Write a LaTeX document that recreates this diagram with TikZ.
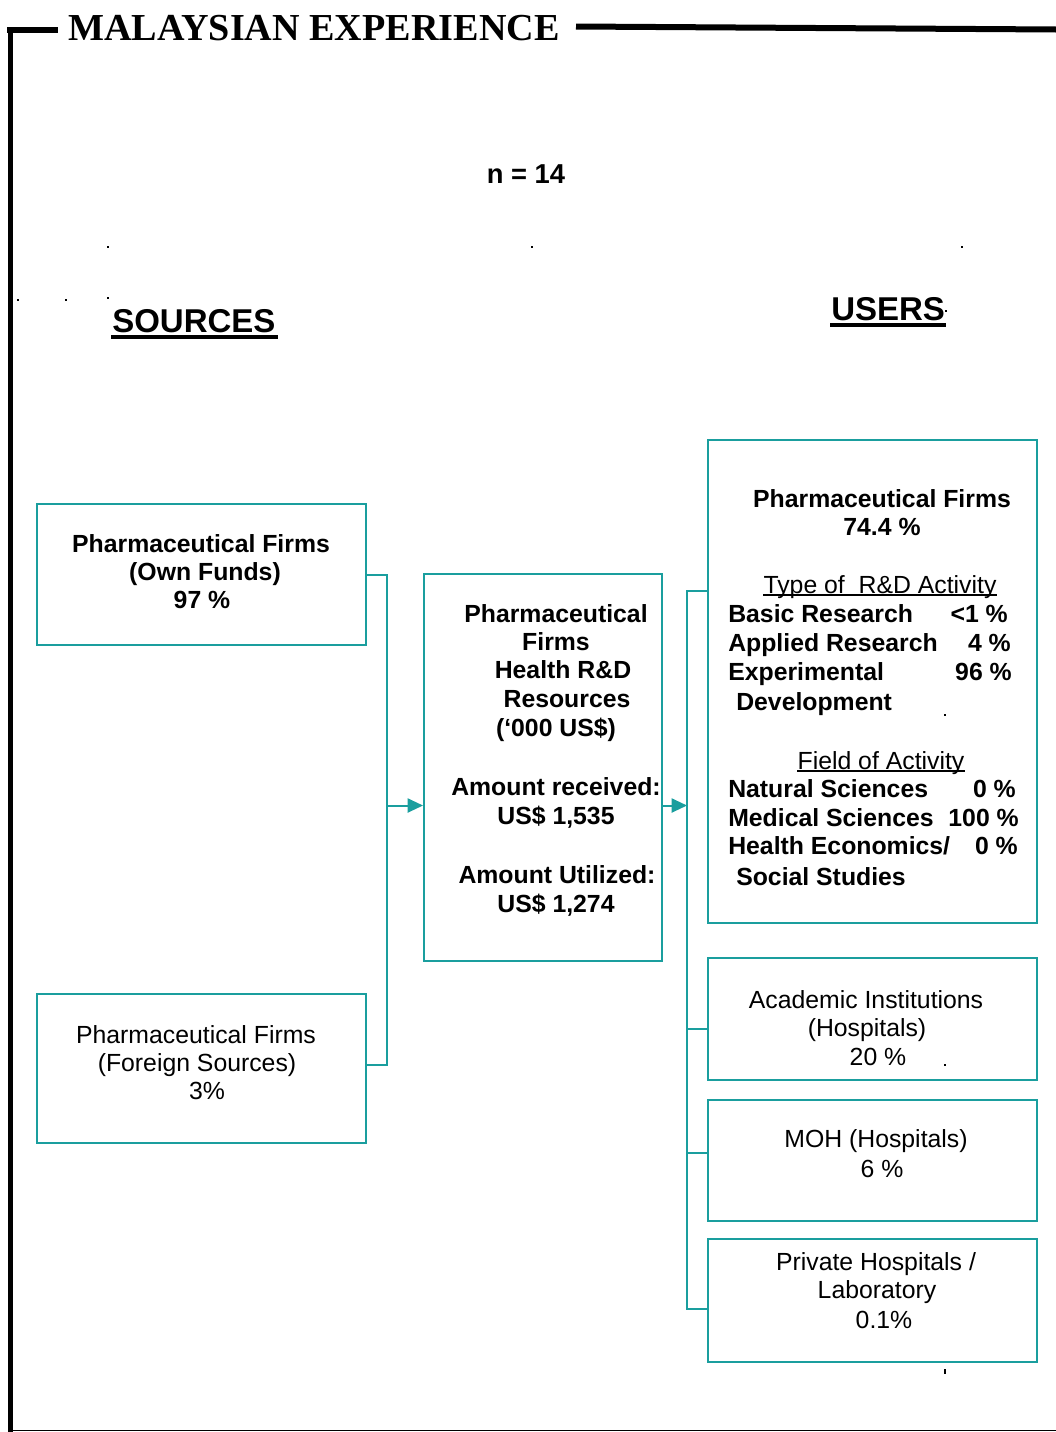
\documentclass[tikz,border=0pt]{standalone}
\usepackage{fontspec}
\setmainfont{Liberation Sans}
\newfontfamily\titlefont{Liberation Serif}
\usetikzlibrary{arrows.meta}
\definecolor{tealline}{RGB}{26,158,158}

\begin{document}
\begin{tikzpicture}[x=0.75pt,y=-0.75pt,
  box/.style={draw=tealline,line width=1.5pt,inner sep=0pt,anchor=north west},
  link/.style={draw=tealline,line width=1.5pt},
  arr/.style={link,-{Triangle[length=11.5pt,width=10.5pt]}},
  txt/.style={inner sep=0pt,anchor=base,font=\fontsize{18.6}{22}\selectfont},
  btxt/.style={txt,font=\fontsize{18.6}{22}\selectfont\bfseries},
  lbl/.style={btxt,anchor=base west},
  val/.style={btxt,anchor=base east},
  head/.style={inner sep=0pt,anchor=base west,font=\fontsize{24.75}{28}\selectfont\bfseries},
  frame/.style={draw=black,line cap=butt},
  speck/.style={fill=black}]

\useasboundingbox (0,0) rectangle (1056,1432);

% ---- outer frame and title ----
\draw[frame,line width=4.5pt] (7,30) -- (58,30);
\draw[frame,line width=4.5pt] (576,26.5) -- (1056,29.5);
\draw[frame,line width=4pt] (10.5,27) -- (10.5,1432);
\draw[frame,line width=1.2pt] (9,1430.5) -- (1056,1430.5);
\node[inner sep=0pt,anchor=base,font=\titlefont\fontsize{28.6}{32}\selectfont\bfseries]
  (title) at (314,40) {MALAYSIAN EXPERIENCE};

\node[btxt,font=\fontsize{20.5}{24}\selectfont\bfseries] (n) at (526,183) {n = 14};

% ---- column headings ----
\node[head] (hsrc) at (112,332) {SOURCES};
\draw[line width=3pt] (111,337) -- (278,337);
\node[head] (husr) at (831,320) {USERS};
\draw[line width=3pt] (830,325) -- (946,325);

% ---- boxes ----
\node[box,minimum width=246.75pt,minimum height=105.75pt] (src1) at (36,503) {};
\node[box,minimum width=246.75pt,minimum height=111.75pt] (src2) at (36,993) {};
\node[box,minimum width=178.5pt,minimum height=290.25pt] (mid) at (423,573) {};
\node[box,minimum width=246.75pt,minimum height=362.25pt] (u1) at (707,439) {};
\node[box,minimum width=246.75pt,minimum height=91.5pt] (u2) at (707,957) {};
\node[box,minimum width=246.75pt,minimum height=90.75pt] (u3) at (707,1099) {};
\node[box,minimum width=246.75pt,minimum height=92.25pt] (u4) at (707,1238) {};

% ---- connectors: sources to resources ----
\coordinate (bl) at (387,0);
\coordinate (s1) at (src1.east);
\coordinate (s2) at ([yshift=3pt]src2.east);
\coordinate (m1) at ([yshift=-28.5pt]mid.west);
\draw[link] (s1) -- (s1 -| bl) -- (s2 -| bl) -- (s2);
\draw[arr] (m1 -| bl) -- (m1);

% ---- connectors: resources to users ----
\coordinate (br) at (687,0);
\coordinate (m2) at ([yshift=-28.5pt]mid.east);
\coordinate (r1) at ([yshift=68pt]u1.west);
\coordinate (r2) at ([yshift=-7.5pt]u2.west);
\coordinate (r3) at ([yshift=5.6pt]u3.west);
\coordinate (r4) at ([yshift=-6.4pt]u4.west);
\draw[link] (r1) -- (r1 -| br) -- (r4 -| br) -- (r4);
\draw[link] (r2 -| br) -- (r2);
\draw[link] (r3 -| br) -- (r3);
\draw[arr] (m2) -- (m2 -| br);

% ---- source texts ----
\node[btxt] (s1a) at (201,552) {Pharmaceutical Firms};
\node[btxt] (s1b) at (205,580) {(Own Funds)};
\node[btxt] (s1c) at (202,608) {97 \%};

\node[txt] (s2a) at (196,1043) {Pharmaceutical Firms};
\node[txt] (s2b) at (197,1071) {(Foreign Sources)};
\node[txt] (s2c) at (207,1099) {3\%};

% ---- central box texts ----
\node[btxt] (ma) at (556,622) {Pharmaceutical};
\node[btxt] (mb) at (556,650) {Firms};
\node[btxt] (mc) at (563,678) {Health R\&D};
\node[btxt] (md) at (567,707) {Resources};
\node[btxt] (me) at (556,736) {(‘000 US\$)};
\node[btxt] (mf) at (556,795) {Amount received:};
\node[btxt] (mg) at (556,824) {US\$ 1,535};
\node[btxt] (mh) at (557,883) {Amount Utilized:};
\node[btxt] (mi) at (556,912) {US\$ 1,274};

% ---- pharmaceutical firms (users) ----
\node[btxt] (ua) at (882,507) {Pharmaceutical Firms};
\node[btxt] (ub) at (882,535) {74.4 \%};
\node[txt] (ty) at (880,593) {Type of\ \ R\&D Activity};
\draw[line width=1pt] ([yshift=-1.5pt]ty.base west) -- ([yshift=-1.5pt]ty.base east);
\node[lbl] (t1) at (728,622) {Basic Research};
\node[val] (v1) at (1008,622) {<1 \%};
\node[lbl] (t2) at (728,651) {Applied Research};
\node[val] (v2) at (1011,651) {4 \%};
\node[lbl] (t3) at (728,680) {Experimental};
\node[val] (v3) at (1012,680) {96 \%};
\node[lbl] (t4) at (736,710) {Development};
\node[txt] (fa) at (881,769) {Field of Activity};
\draw[line width=1pt] ([yshift=-1.5pt]fa.base west) -- ([yshift=-1.5pt]fa.base east);
\node[lbl] (f1) at (728,797) {Natural Sciences};
\node[val] (w1) at (1016,797) {0 \%};
\node[lbl] (f2) at (728,826) {Medical Sciences};
\node[val] (w2) at (1019,826) {100 \%};
\node[lbl] (f3) at (728,854) {Health Economics/};
\node[val] (w3) at (1018,854) {0 \%};
\node[lbl] (f4) at (736,885) {Social Studies};

% ---- other users ----
\node[txt] (u2a) at (866,1008) {Academic Institutions};
\node[txt] (u2b) at (867,1036) {(Hospitals)};
\node[txt] (u2c) at (878,1065) {20 \%};
\node[txt] (u3a) at (876,1147) {MOH (Hospitals)};
\node[txt] (u3b) at (882,1177) {6 \%};
\node[txt] (u4a) at (876,1270) {Private Hospitals /};
\node[txt] (u4b) at (877,1298) {Laboratory};
\node[txt] (u4c) at (884,1328) {0.1\%};

% ---- stray marks ----
\foreach \px/\py in {108/247,532/247,962/247,18/300,66/300,108/298,946/311,945/715,945/1065}
  \fill[speck] (\px-0.7,\py-1) rectangle (\px+0.7,\py+1.2);
\fill[speck] (944.3,1369) rectangle (945.7,1374);
\end{tikzpicture}
\end{document}
